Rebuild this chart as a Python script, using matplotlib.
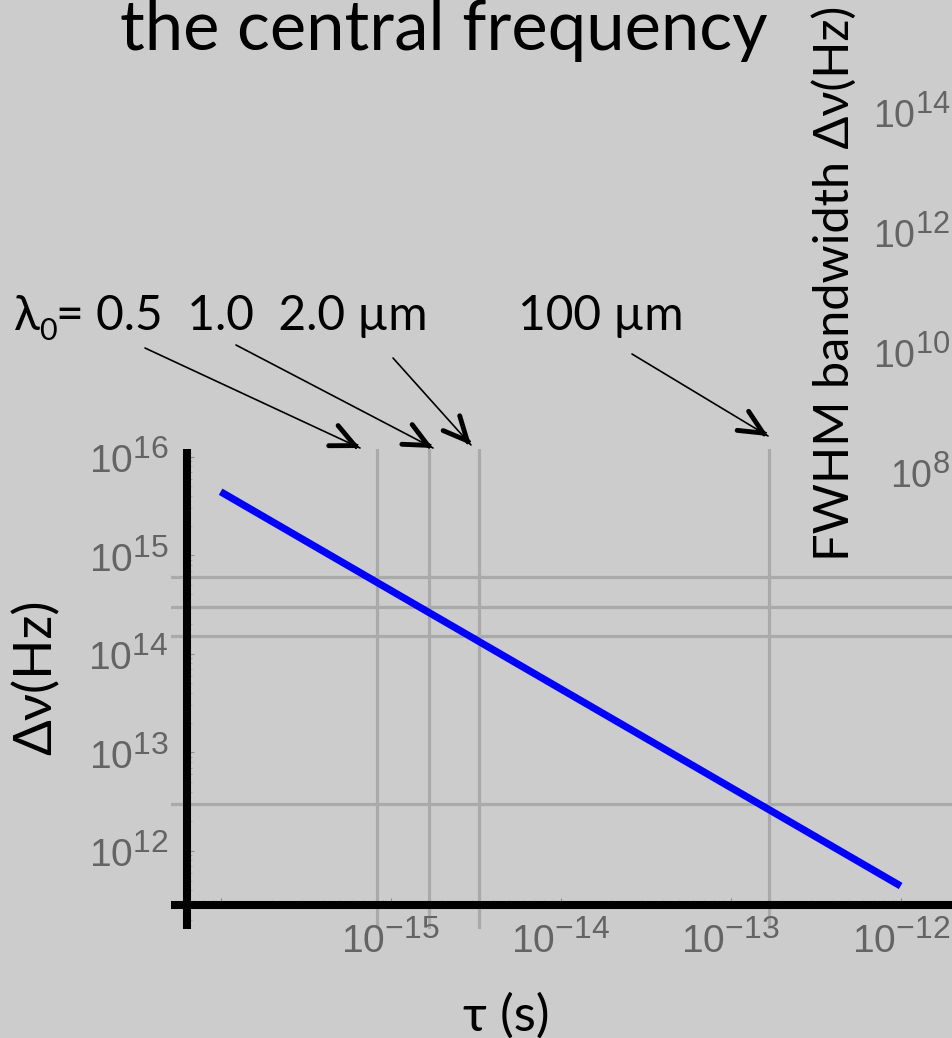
import matplotlib.pyplot as plt
from matplotlib import _mathtext
from matplotlib.ticker import FixedLocator, FixedFormatter, LogLocator, NullFormatter

# superscripts in the tick labels are a bit larger than mathtext's default
_mathtext.SHRINK_FACTOR = 0.82

plt.rcParams['font.family'] = ['Liberation Sans', 'DejaVu Sans']
plt.rcParams['axes.unicode_minus'] = True
SANS = ['Lato', 'Noto Sans', 'DejaVu Sans']

BG = '#cccccc'
GRID = '#aaaaaa'
TICK_TXT = '#646464'
W, H = 952, 1038

# transform-limited bandwidth vs. pulse duration
tau = [1e-16, 1e-12]
dnu = [4.41e15, 4.41e11]

# marked wavelengths: half optical period and carrier frequency
wavelength_um = [0.5, 1.0, 2.0, 100.0]
tau_marks = [0.83e-15, 1.67e-15, 3.33e-15, 1.67e-13]
nu_marks = [6.0e14, 3.0e14, 1.5e14, 3.0e12]

x_ticks = [1e-16, 1e-15, 1e-14, 1e-13, 1e-12]
x_tick_labels = ['', r'$\mathdefault{10^{-15}}$', r'$\mathdefault{10^{-14}}$',
                 r'$\mathdefault{10^{-13}}$', r'$\mathdefault{10^{-12}}$']
y_ticks = [1e12, 1e13, 1e14, 1e15, 1e16]
y_tick_labels = [r'$\mathdefault{10^{12}}$', r'$\mathdefault{10^{13}}$',
                 r'$\mathdefault{10^{14}}$', r'$\mathdefault{10^{15}}$',
                 r'$\mathdefault{10^{16}}$']
side_ticks = [1e8, 1e10, 1e12, 1e14]
side_tick_labels = [r'$\mathdefault{10^{8}}$', r'$\mathdefault{10^{10}}$',
                    r'$\mathdefault{10^{12}}$', r'$\mathdefault{10^{14}}$']

# arrows from the wavelength labels down to the marker lines (pixels, top-left origin)
arrow_tails = [(145, 348), (236, 345), (393, 358), (632, 354)]
arrow_tips = [(360, 448), (433, 448), (471, 445), (768, 436)]


def rect(x0, y0, x1, y1):
    return [x0 / W, 1 - y1 / H, (x1 - x0) / W, (y1 - y0) / H]


def fpx(p):
    return (p[0], H - p[1])


fig = plt.figure(figsize=(W / 100, H / 100), dpi=100, facecolor=BG)
renderer = fig.canvas.get_renderer()

ax = fig.add_axes(rect(171, 449.3, 952, 929))
ax.set_facecolor(BG)
ax.set_xscale('log')
ax.set_yscale('log')
ax.set_xlim(10 ** -16.292, 10 ** -11.698)
ax.set_ylim(10 ** 11.208, 10 ** 16.075)

for t in tau_marks:
    ax.axvline(t, color=GRID, lw=2.3, zorder=1)
for n in nu_marks:
    ax.axhline(n, color=GRID, lw=2.3, zorder=1)

ax.plot(tau, dnu, color='#0000ff', lw=5.2, solid_capstyle='butt', zorder=3)

# axes cross inside the frame, Mathematica style
ax.spines[['top', 'right']].set_visible(False)
ax.spines['left'].set_position(('data', 10 ** -16.2))
ax.spines['bottom'].set_position(('data', 10 ** 11.452))
for s in ('left', 'bottom'):
    ax.spines[s].set_linewidth(5.8)
    ax.spines[s].set_capstyle('butt')

ax.xaxis.set_major_locator(FixedLocator(x_ticks))
ax.xaxis.set_major_formatter(FixedFormatter(x_tick_labels))
ax.yaxis.set_major_locator(FixedLocator(y_ticks))
ax.yaxis.set_major_formatter(FixedFormatter(y_tick_labels))
for a in (ax.xaxis, ax.yaxis):
    a.set_minor_locator(LogLocator(base=10, subs=range(2, 10), numticks=20))
    a.set_minor_formatter(NullFormatter())

ax.tick_params(which='major', direction='in', length=5, width=0.8,
               color='#8f8f8f', labelcolor=TICK_TXT, labelsize=28)
ax.tick_params(which='minor', direction='in', length=3.8, width=0.6, color='#a0a0a0')
ax.tick_params(axis='x', which='major', pad=11)
ax.tick_params(axis='y', which='major', pad=13)

ax.set_ylabel('Δν(Hz)', family=SANS, fontsize=38, va='center')
ax.yaxis.set_label_coords((36 - 171) / 781, (929 - 677) / 479.7)
ax.set_xlabel('τ (s)', family=SANS, fontsize=37, va='center')
ax.xaxis.set_label_coords((506 - 171) / 781, (929 - 1016) / 479.7)

# neighbouring panel, only its tick labels reach into view
ax2 = fig.add_axes(rect(950, 52, 1000, 532))
ax2.set_facecolor('none')
ax2.set_yscale('log')
ax2.set_ylim(1e7, 1e15)
ax2.set_xticks([])
ax2.yaxis.set_major_locator(FixedLocator(side_ticks))
ax2.yaxis.set_major_formatter(FixedFormatter(side_tick_labels))
ax2.yaxis.set_minor_locator(FixedLocator([]))
ax2.tick_params(axis='y', length=0, pad=0, labelcolor=TICK_TXT, labelsize=27)
for s in ax2.spines.values():
    s.set_visible(False)

fig.text(834, H - 283, 'FWHM bandwidth Δν(Hz)', transform=None, rotation=90,
         ha='center', va='center', family=SANS, fontsize=35)

fig.text(120, H - 50, 'the central frequency', transform=None,
         ha='left', va='baseline', family=SANS, fontsize=49.5)

# wavelength labels, lambda with a lowered subscript 0
lam = fig.text(14, H - 330, 'λ', transform=None, ha='left', va='baseline',
               family=SANS, fontsize=34.5)
x_sub = lam.get_window_extent(renderer).x1 - 1
sub = fig.text(x_sub, H - 340, '0', transform=None, ha='left', va='baseline',
               family=SANS, fontsize=22)
fig.text(sub.get_window_extent(renderer).x1, H - 330, '= 0.5  1.0  2.0 µm',
         transform=None, ha='left', va='baseline', family=SANS, fontsize=34.5)
fig.text(518, H - 330, '100 µm', transform=None, ha='left', va='baseline',
         family=SANS, fontsize=34.5)

for tail, tip in zip(arrow_tails, arrow_tips):
    ax.annotate('', xy=fpx(tip), xytext=fpx(tail), xycoords='figure pixels',
                textcoords='figure pixels', annotation_clip=False,
                arrowprops=dict(arrowstyle='-', lw=1.2, color='black',
                                shrinkA=0, shrinkB=0))
    dx, dy = tip[0] - tail[0], tip[1] - tail[1]
    d = (dx * dx + dy * dy) ** 0.5
    back = (tip[0] - 3 * dx / d, tip[1] - 3 * dy / d)
    ax.annotate('', xy=fpx(tip), xytext=fpx(back), xycoords='figure pixels',
                textcoords='figure pixels', annotation_clip=False,
                arrowprops=dict(arrowstyle='->,head_length=1.7,head_width=0.8',
                                mutation_scale=10, lw=3.5, color='black',
                                shrinkA=0, shrinkB=0, joinstyle='miter'))

fig.savefig('out.png', dpi=100, facecolor=BG)
